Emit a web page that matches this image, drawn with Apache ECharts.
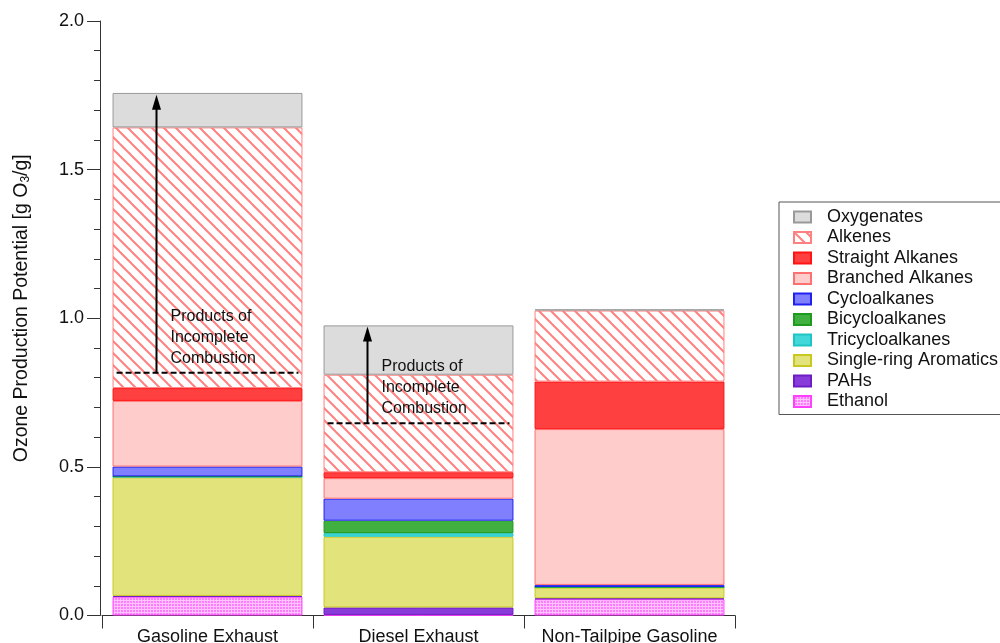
<!DOCTYPE html>
<html>
<head>
<meta charset="utf-8">
<script src="https://cdn.jsdelivr.net/npm/echarts@6/dist/echarts.min.js"></script>
<style>
html,body{margin:0;padding:0;background:#fff;}
#chart{width:1000px;height:643px;}
</style>
</head>
<body>
<div id="chart"></div>
<script>
// ---- data ----
var categories = ['Gasoline Exhaust', 'Diesel Exhaust', 'Non-Tailpipe Gasoline'];
var ethanol    = [0.063, 0.002, 0.055];
var pahs       = [0.003, 0.025, 0.003];
var aromatics  = [0.399, 0.238, 0.036];
var tricyclo   = [0.002, 0.012, 0.002];
var bicyclo    = [0.001, 0.042, 0.000];
var cyclo      = [0.033, 0.074, 0.007];
var branched   = [0.221, 0.069, 0.524];
var straight   = [0.043, 0.020, 0.160];
var alkenes    = [0.877, 0.328, 0.239];
var oxygenates = [0.116, 0.166, 0.004];
// Products-of-incomplete-combustion annotations: category index, dashed level, arrow top
var picCategory = [0, 1];
var picLevel    = [0.817, 0.647];
var picTop      = [1.752, 0.972];
var yTicks = [0, 0.5, 1.0, 1.5, 2.0];

var FONT = 'Liberation Sans, Arial, sans-serif';

function hatchPattern() {
  var c = document.createElement('canvas');
  c.width = 12; c.height = 12;
  var g = c.getContext('2d');
  g.fillStyle = '#ffffff';
  g.fillRect(0, 0, 12, 12);
  g.strokeStyle = '#FF8080';
  g.lineWidth = 2;
  [-12, 0, 12].forEach(function (k) {
    g.beginPath();
    g.moveTo(k - 1, -1);
    g.lineTo(k + 13, 13);
    g.stroke();
  });
  return {image: c, repeat: 'repeat'};
}
function gridPattern() {
  var c = document.createElement('canvas');
  c.width = 3; c.height = 3;
  var g = c.getContext('2d');
  g.fillStyle = '#FF7CFF';
  g.fillRect(0, 0, 3, 3);
  g.fillStyle = '#FFC4FF';
  g.fillRect(0, 0, 3, 1);
  g.fillRect(0, 0, 1, 3);
  return {image: c, repeat: 'repeat'};
}

var seriesDefs = [
  {name: 'Ethanol', data: ethanol, color: gridPattern(), border: '#FF40FF'},
  {name: 'PAHs', data: pahs, color: '#8A3CDA', border: '#6C1EC4'},
  {name: 'Single-ring Aromatics', data: aromatics, color: '#E3E37B', border: '#C8C820'},
  {name: 'Tricycloalkanes', data: tricyclo, color: '#40D8D8', border: '#20C4C4'},
  {name: 'Bicycloalkanes', data: bicyclo, color: '#40B040', border: '#1E9A1E'},
  {name: 'Cycloalkanes', data: cyclo, color: '#8080FF', border: '#2020F0'},
  {name: 'Branched Alkanes', data: branched, color: '#FFCCCC', border: '#FF7070'},
  {name: 'Straight Alkanes', data: straight, color: '#FF4040', border: '#FF1414'},
  {name: 'Alkenes', data: alkenes, color: hatchPattern(), border: '#FF8080'},
  {name: 'Oxygenates', data: oxygenates, color: '#DCDCDC', border: '#999999'}
];

var series = seriesDefs.map(function (s) {
  return {
    name: s.name,
    type: 'bar',
    stack: 'total',
    barWidth: '90%',
    data: s.data,
    itemStyle: {color: s.color, borderColor: s.border, borderWidth: 1},
    emphasis: {disabled: true},
    animation: false
  };
});

var picData = picCategory.map(function (c, i) { return [c, picLevel[i], picTop[i]]; });
series.push({
  type: 'custom',
  name: 'pic',
  z: 10,
  animation: false,
  silent: true,
  encode: {x: 0, y: 1},
  data: picData,
  renderItem: function (params, api) {
    var base = api.coord([api.value(0), api.value(1)]);
    var top = api.coord([api.value(0), api.value(2)]);
    var band = api.size([1, 0])[0];
    var half = band * 0.9 / 2;
    var cx = base[0], y0 = base[1], yt = top[1];
    var ax = cx - 51;
    return {
      type: 'group',
      children: [
        {type: 'line', shape: {x1: cx - half + 4, y1: y0, x2: cx + half - 4, y2: y0},
         style: {stroke: '#000', lineWidth: 2, lineDash: [6, 3]}},
        {type: 'line', shape: {x1: ax, y1: y0, x2: ax, y2: yt + 10},
         style: {stroke: '#000', lineWidth: 2}},
        {type: 'polygon', shape: {points: [[ax, yt], [ax - 4.5, yt + 15], [ax + 4.5, yt + 15]]},
         style: {fill: '#000'}},
        {type: 'text', style: {text: 'Products of\nIncomplete\nCombustion', x: cx - 37, y: y0 - 4,
          align: 'left', verticalAlign: 'bottom', font: '16px ' + FONT, lineHeight: 21, fill: '#111'}}
      ]
    };
  }
});

var chart = echarts.init(document.getElementById('chart'), null, {renderer: 'canvas'});
chart.setOption({
  animation: false,
  backgroundColor: '#ffffff',
  grid: {left: 102, right: 265, top: 21, bottom: 27.5, containLabel: false, outerBoundsMode: 'none'},
  legend: {
    orient: 'vertical',
    left: 779, top: 202,
    padding: [6, 12, 4, 14],
    borderColor: '#555', borderWidth: 1,
    icon: 'rect',
    itemWidth: 17, itemHeight: 11, itemGap: 2.5,
    selectedMode: false,
    data: ['Oxygenates', 'Alkenes', 'Straight Alkanes', 'Branched Alkanes', 'Cycloalkanes',
           'Bicycloalkanes', 'Tricycloalkanes', 'Single-ring Aromatics', 'PAHs', 'Ethanol'],
    textStyle: {fontSize: 18, fontFamily: FONT, color: '#111', lineHeight: 18, padding: [0, 0, 0, 11]}
  },
  xAxis: {
    type: 'category',
    data: categories,
    offset: 2.5,
    axisLine: {lineStyle: {color: '#333', width: 1}},
    axisTick: {show: true, length: 13, lineStyle: {color: '#333'}},
    axisLabel: {interval: 0, fontSize: 18, fontFamily: FONT, color: '#111', margin: 10}
  },
  yAxis: {
    type: 'value',
    min: yTicks[0], max: yTicks[yTicks.length - 1], interval: 0.5,
    offset: 2,
    name: 'Ozone Production Potential [g O{s|3}/g]',
    nameLocation: 'middle',
    nameGap: 68,
    nameTextStyle: {fontSize: 19.5, fontFamily: FONT, color: '#111', padding: [0, 0, 0, 20],
      rich: {s: {fontSize: 12, fontFamily: FONT, verticalAlign: 'bottom', padding: [7, 0, 0, 0]}}},
    axisLine: {show: true, lineStyle: {color: '#333', width: 1}},
    axisTick: {show: true, length: 13, lineStyle: {color: '#333'}},
    minorTick: {show: true, splitNumber: 5, length: 6, lineStyle: {color: '#333'}},
    splitLine: {show: false},
    axisLabel: {fontSize: 18, fontFamily: FONT, color: '#111', margin: 16,
      formatter: function (v) { return v.toFixed(1); }}
  },
  series: series
});
</script>
</body>
</html>
